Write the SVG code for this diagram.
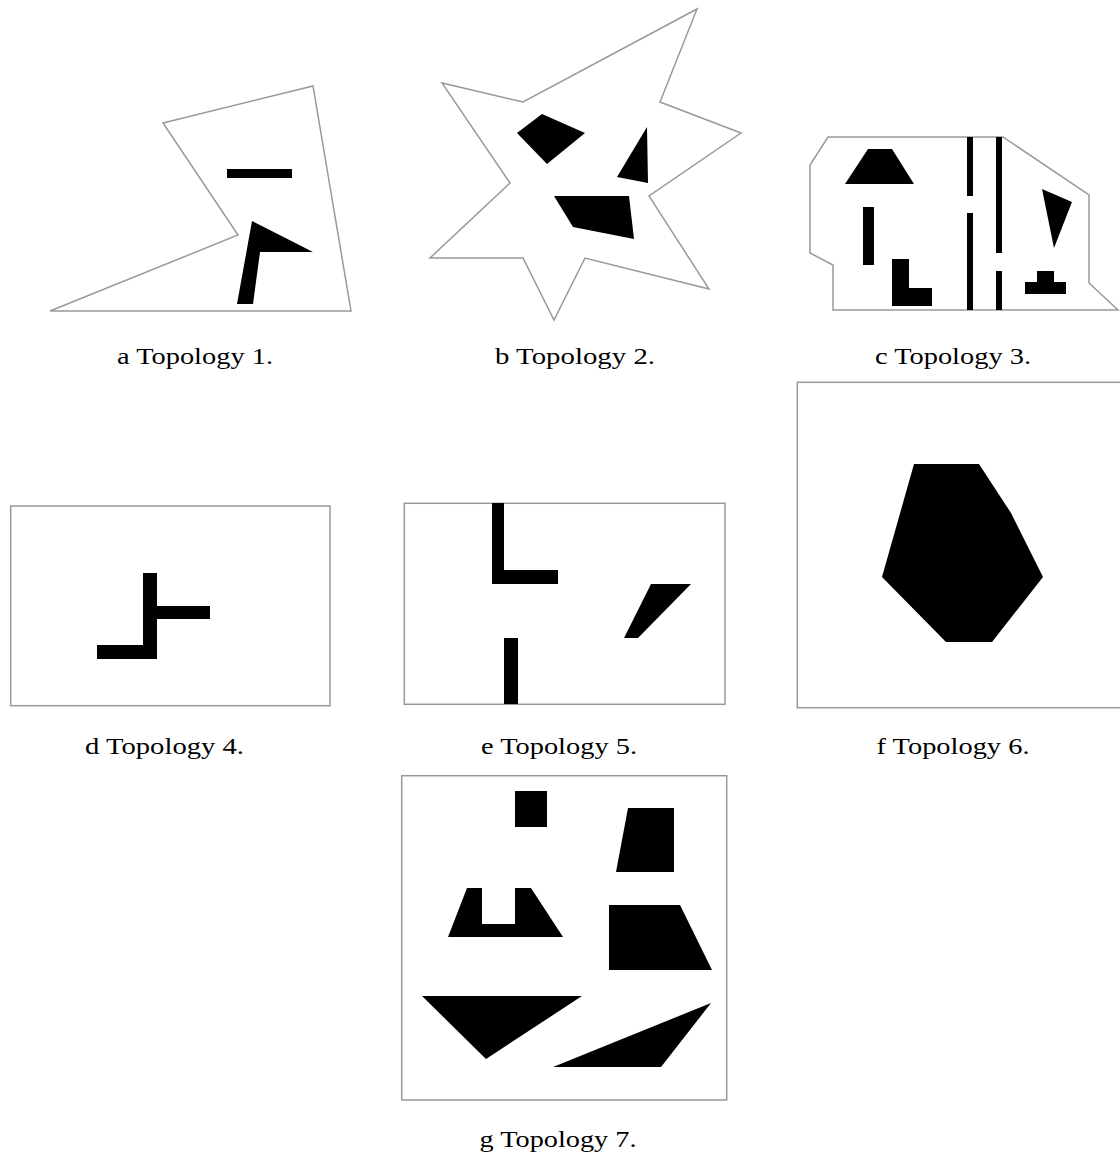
<svg xmlns="http://www.w3.org/2000/svg" width="1120" height="1155" viewBox="0 0 1120 1155">
<style>
.bd{fill:#fff;stroke:#999;stroke-width:1.5;stroke-linejoin:miter}
.ob{fill:#000;stroke:none}
.cap{font-family:"Liberation Serif","DejaVu Serif",serif;font-size:23px;fill:#000;text-anchor:middle}
</style>
<rect width="1120" height="1155" fill="#fff"/>
<g id="topology1">
<polygon class="bd" points="50,311 238,235 163,123 313,86 351,311"/>
<rect class="ob" x="227" y="169" width="65" height="9"/>
<polygon class="ob" points="252,221 313,252 260,252 253,304 237,304"/>
<text class="cap" x="195" y="364" textLength="156" lengthAdjust="spacingAndGlyphs">a Topology 1.</text>
</g>
<g id="topology2">
<polygon class="bd" points="697,9 660,102 741,133 649,196 709,289 585,258 554,320 523,258 430,258 510,183 442,83 523,102"/>
<polygon class="ob" points="517,133 542,114 585,133 547,164"/>
<polygon class="ob" points="647,127 648,183 617,177"/>
<polygon class="ob" points="554,196 629,196 634,239 573,227"/>
<text class="cap" x="575" y="364" textLength="160" lengthAdjust="spacingAndGlyphs">b Topology 2.</text>
</g>
<g id="topology3">
<polygon class="bd" points="828,137 1003,137 1089,195 1089,283 1118,310 833,310 833,265 810,253 810,165"/>
<polygon class="ob" points="868,149 892,149 914,184 845,184"/>
<rect class="ob" x="863" y="207" width="11" height="58"/>
<polygon class="ob" points="892,259 909,259 909,288 932,288 932,306 892,306"/>
<rect class="ob" x="967" y="137" width="6" height="59"/>
<rect class="ob" x="967" y="213" width="6" height="97"/>
<rect class="ob" x="996" y="137" width="6" height="116"/>
<rect class="ob" x="996" y="271" width="6" height="39"/>
<polygon class="ob" points="1042,189 1072,202 1054,248"/>
<polygon class="ob" points="1037,271 1054,271 1054,282 1066,282 1066,294 1025,294 1025,282 1037,282"/>
<text class="cap" x="953" y="364" textLength="156" lengthAdjust="spacingAndGlyphs">c Topology 3.</text>
</g>
<g id="topology4">
<rect class="bd" x="10.7" y="506" width="319.3" height="199.7"/>
<polygon class="ob" points="143,573 157,573 157,606 210,606 210,619 157,619 157,659 97,659 97,645 143,645"/>
<text class="cap" x="164.5" y="754" textLength="159" lengthAdjust="spacingAndGlyphs">d Topology 4.</text>
</g>
<g id="topology5">
<rect class="bd" x="404.3" y="503.3" width="320.7" height="201"/>
<polygon class="ob" points="492,503 504,503 504,570 558,570 558,584 492,584"/>
<rect class="ob" x="504" y="638" width="14" height="66"/>
<polygon class="ob" points="651,584 691,584 638,638 624,638"/>
<text class="cap" x="559" y="754" textLength="156" lengthAdjust="spacingAndGlyphs">e Topology 5.</text>
</g>
<g id="topology6">
<rect class="bd" x="797.3" y="382.3" width="330" height="325.4"/>
<polygon class="ob" points="914,464 979,464 1011,513 1043,577 992,642 946,642 882,577"/>
<text class="cap" x="953" y="754" textLength="153" lengthAdjust="spacingAndGlyphs">f Topology 6.</text>
</g>
<g id="topology7">
<rect class="bd" x="401.7" y="775.7" width="325" height="324.3"/>
<rect class="ob" x="515" y="791" width="32" height="36"/>
<polygon class="ob" points="628,808 674,808 674,872 616,872"/>
<polygon class="ob" points="467,888 482,888 482,924 515,924 515,888 531,888 563,937 448,937"/>
<polygon class="ob" points="609,905 680,905 712,970 609,970"/>
<polygon class="ob" points="422,996 582,996 486,1059"/>
<polygon class="ob" points="711,1003 661,1067 553,1067"/>
<text class="cap" x="558" y="1147" textLength="157" lengthAdjust="spacingAndGlyphs">g Topology 7.</text>
</g>
</svg>
